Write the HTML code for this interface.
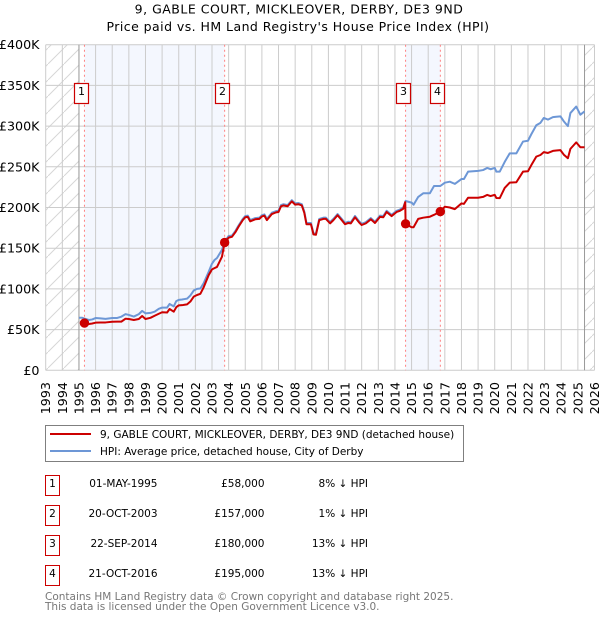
<!DOCTYPE html>
<html>
<head>
<meta charset="utf-8">
<style>
html,body{margin:0;padding:0;background:#fff;}
#wrap{position:relative;width:600px;height:620px;overflow:hidden;}
svg{display:block;}
text{font-family:"DejaVu Sans","Liberation Sans",sans-serif;fill:#000;}
</style>
</head>
<body>
<div id="wrap">
<svg id="chart" width="600" height="620" viewBox="0 0 600 620" xmlns="http://www.w3.org/2000/svg">
<defs>
<pattern id="hatch" patternUnits="userSpaceOnUse" width="16" height="16">
<line x1="-1" y1="17" x2="17" y2="-1" stroke="#d6d6d6" stroke-width="1"></line>
</pattern>
</defs>
<text x="299" y="13.5" text-anchor="middle" font-size="12.5" letter-spacing="0.5">9, GABLE COURT, MICKLEOVER, DERBY, DE3 9ND</text>
<text x="298" y="31" text-anchor="middle" font-size="12.5" letter-spacing="0.45">Price paid vs. HM Land Registry's House Price Index (HPI)</text>
<g id="plot"></g>

<g>
<rect x="45.5" y="425.5" width="418" height="36" fill="#fff" stroke="#7f7f7f" stroke-width="1"></rect>
<line x1="50" y1="434" x2="91" y2="434" stroke="#cc0000" stroke-width="2"></line>
<text x="100" y="438" font-size="10.5">9, GABLE COURT, MICKLEOVER, DERBY, DE3 9ND (detached house)</text>
<line x1="50" y1="451" x2="91" y2="451" stroke="#6d97d6" stroke-width="2"></line>
<text x="100" y="455" font-size="10.5">HPI: Average price, detached house, City of Derby</text>
</g>

<g font-size="10.5">
<g>
<rect x="45.5" y="475.5" width="14" height="20" fill="#fff" stroke="#cc0000" stroke-width="1"></rect>
<text x="52.5" y="487" text-anchor="middle">1</text>
<text x="157.5" y="487" text-anchor="end">01-MAY-1995</text>
<text x="264.5" y="487" text-anchor="end">£58,000</text>
<text x="368" y="487" text-anchor="end">8% ↓ HPI</text>
</g>
<g>
<rect x="45.5" y="505.5" width="14" height="20" fill="#fff" stroke="#cc0000" stroke-width="1"></rect>
<text x="52.5" y="517" text-anchor="middle">2</text>
<text x="157.5" y="517" text-anchor="end">20-OCT-2003</text>
<text x="264.5" y="517" text-anchor="end">£157,000</text>
<text x="368" y="517" text-anchor="end">1% ↓ HPI</text>
</g>
<g>
<rect x="45.5" y="535.5" width="14" height="20" fill="#fff" stroke="#cc0000" stroke-width="1"></rect>
<text x="52.5" y="547" text-anchor="middle">3</text>
<text x="157.5" y="547" text-anchor="end">22-SEP-2014</text>
<text x="264.5" y="547" text-anchor="end">£180,000</text>
<text x="368" y="547" text-anchor="end">13% ↓ HPI</text>
</g>
<g>
<rect x="45.5" y="565.5" width="14" height="20" fill="#fff" stroke="#cc0000" stroke-width="1"></rect>
<text x="52.5" y="577" text-anchor="middle">4</text>
<text x="157.5" y="577" text-anchor="end">21-OCT-2016</text>
<text x="264.5" y="577" text-anchor="end">£195,000</text>
<text x="368" y="577" text-anchor="end">13% ↓ HPI</text>
</g>
</g>

<text x="45" y="600" font-size="10.5" style="fill:#777">Contains HM Land Registry data © Crown copyright and database right 2025.</text>
<text x="45" y="610" font-size="10.5" style="fill:#777">This data is licensed under the Open Government Licence v3.0.</text>
</svg>
</div>
<script>
var yearTicks = [1993,1994,1995,1996,1997,1998,1999,2000,2001,2002,2003,2004,2005,2006,2007,2008,2009,2010,2011,2012,2013,2014,2015,2016,2017,2018,2019,2020,2021,2022,2023,2024,2025,2026];
var valueTicks = [0,50000,100000,150000,200000,250000,300000,350000,400000];
var valueTickLabels = ['£0','£50K','£100K','£150K','£200K','£250K','£300K','£350K','£400K'];

var hpiDates = [1995,1995.2,1995.33,1995.6,1995.8,1996,1996.3,1996.6,1997,1997.3,1997.55,1997.8,1998,1998.3,1998.6,1998.8,1999,1999.3,1999.55,1999.8,2000,2000.3,2000.45,2000.7,2000.85,2001,2001.2,2001.35,2001.5,2001.7,2001.9,2002.1,2002.3,2002.5,2002.8,2003,2003.15,2003.3,2003.6,2003.76,2004,2004.2,2004.4,2004.6,2004.85,2005,2005.15,2005.3,2005.6,2005.85,2006,2006.15,2006.3,2006.6,2006.85,2007,2007.15,2007.3,2007.55,2007.8,2008,2008.2,2008.4,2008.55,2008.68,2008.95,2009.1,2009.25,2009.45,2009.7,2009.85,2010.1,2010.3,2010.55,2010.8,2011,2011.2,2011.35,2011.6,2011.85,2012,2012.25,2012.55,2012.8,2013.1,2013.3,2013.5,2013.8,2014.1,2014.3,2014.5,2014.64,2015,2015.12,2015.4,2015.7,2016.1,2016.35,2016.73,2017,2017.3,2017.6,2018,2018.15,2018.4,2019,2019.3,2019.55,2019.75,2020,2020.1,2020.3,2020.6,2020.9,2021.3,2021.7,2022,2022.2,2022.5,2022.75,2022.95,2023.2,2023.5,2023.7,2023.95,2024.15,2024.4,2024.55,2024.9,2025.15,2025.4];
var hpiValues = [64500,64500,63500,61800,62500,64200,63800,63200,64200,64300,65900,69000,68000,66000,69000,73000,70000,70500,72000,75500,77000,77000,81500,78500,85000,86500,87000,87500,88000,92000,98000,100000,100500,107000,121000,131000,135500,138000,148000,158000,165000,165500,171000,178000,186000,189500,190000,184600,187000,187500,190600,191500,186000,193600,195500,196000,203000,204000,203000,209000,205000,205500,204000,195000,181000,181000,168500,168000,186000,187500,187500,182000,186000,192000,186000,181000,182500,182000,189600,183000,180000,182000,187000,182500,190000,189500,196000,191000,196000,197500,200000,208000,206000,203400,213000,217500,217500,226400,226400,230500,231700,229000,235000,235000,244000,245000,246000,248600,247000,248600,244000,244000,256000,266500,266500,281000,282000,290000,301000,304000,310000,308000,311000,311500,312000,306000,300000,316000,324000,314000,318000];

var priceDates = [1995.33,1995.6,1995.8,1996,1996.3,1996.6,1997,1997.3,1997.55,1997.8,1998,1998.3,1998.6,1998.8,1999,1999.3,1999.55,1999.8,2000,2000.3,2000.45,2000.7,2000.85,2001,2001.2,2001.35,2001.5,2001.7,2001.9,2002.1,2002.3,2002.5,2002.8,2003,2003.15,2003.3,2003.6,2003.76,2004,2004.2,2004.4,2004.6,2004.85,2005,2005.15,2005.3,2005.6,2005.85,2006,2006.15,2006.3,2006.6,2006.85,2007,2007.15,2007.3,2007.55,2007.8,2008,2008.2,2008.4,2008.55,2008.68,2008.95,2009.1,2009.25,2009.45,2009.7,2009.85,2010.1,2010.3,2010.55,2010.8,2011,2011.2,2011.35,2011.6,2011.85,2012,2012.25,2012.55,2012.8,2013.1,2013.3,2013.5,2013.8,2014.1,2014.3,2014.5,2014.62,2014.64,2015,2015.12,2015.4,2015.7,2016.1,2016.35,2016.73,2017,2017.3,2017.6,2018,2018.15,2018.4,2019,2019.3,2019.55,2019.75,2020,2020.1,2020.3,2020.6,2020.9,2021.3,2021.7,2022,2022.2,2022.5,2022.75,2022.95,2023.2,2023.5,2023.7,2023.95,2024.15,2024.4,2024.55,2024.9,2025.15,2025.4];
var priceValues = [58000,56900,57500,58500,58700,58800,59700,59800,59800,63400,63000,61800,63000,66700,63000,64500,67000,69500,71300,71000,75300,72000,77500,79800,80000,80500,81000,84500,90500,92500,94000,102000,117000,124000,125500,127000,139600,157000,163000,164000,169500,176500,184500,188000,188500,183000,185500,186000,189000,190000,184500,192000,194000,194500,201500,202500,201500,207500,203500,204000,202500,193500,179500,179500,167000,166500,184500,186000,186000,180500,184500,190500,184500,179500,181000,180500,188000,181500,178500,180500,185500,181000,188500,188000,194500,189500,194500,196000,198500,206500,180000,175700,175700,186000,187500,188700,191000,195000,201000,200000,198000,205000,204500,212000,212000,213000,215500,214000,215500,211700,211500,224000,230500,231000,244000,244500,252000,262500,264500,268000,267000,269500,270000,270500,265000,260500,272000,280000,274000,274000];

var saleLabels = ['1','2','3','4'];
var saleDates = [1995.33,2003.76,2014.64,2016.73];
var salePrices = [58000,157000,180000,195000];
var dataEndDate = 2025.4;

var X0 = 45.7, X1 = 594.5, Y0 = 370.3, Y1 = 44.7;
var DOMAIN_X0 = 1993, DOMAIN_X1 = 2026, DOMAIN_Y1 = 400000;
function xScale(v){ return X0 + (v - DOMAIN_X0) / (DOMAIN_X1 - DOMAIN_X0) * (X1 - X0); }
function yScale(v){ return Y0 - v / DOMAIN_Y1 * (Y0 - Y1); }

var NS = 'http://www.w3.org/2000/svg';
var plot = document.getElementById('plot');
function mk(tag, attrs){
  var el = document.createElementNS(NS, tag);
  for (var k in attrs) el.setAttribute(k, attrs[k]);
  plot.appendChild(el);
  return el;
}
var el, i;

// owned-period shading
for (i = 0; i < saleDates.length; i += 2) {
  el = mk('rect', {x: xScale(saleDates[i]), y: Y1, width: xScale(saleDates[i+1]) - xScale(saleDates[i]), height: Y0 - Y1, fill: '#f4f7fe'});
  
  
}

// no-data hatching
el = mk('rect', {x: X0, y: Y1, width: xScale(1995) - X0, height: Y0 - Y1, fill: 'url(#hatch)'});


el = mk('rect', {x: xScale(dataEndDate), y: Y1, width: X1 - xScale(dataEndDate), height: Y0 - Y1, fill: 'url(#hatch)'});



// grid and tick labels
yearTicks.forEach(function(t){
  var x = xScale(t);
  var g = mk('line', {x1: x, x2: x, y1: Y1, y2: Y0, stroke: '#cccccc', 'stroke-width': 1});
  
  
  var lab = mk('text', {transform: 'translate(' + (x + 4.5) + ',382) rotate(-90)', 'text-anchor': 'end', 'font-size': 12.7});
  lab.textContent = t;
  
  
});
valueTicks.forEach(function(t, idx){
  var y = yScale(t);
  var g = mk('line', {x1: X0, x2: X1, y1: y, y2: y, stroke: '#cccccc', 'stroke-width': 1});
  
  
  var lab = mk('text', {x: 39.5, y: y + 4.5, 'text-anchor': 'end', 'font-size': 12.7});
  lab.textContent = valueTickLabels[idx];
  
  
});

// data-range boundaries
el = mk('line', {x1: xScale(1995), x2: xScale(1995), y1: Y1, y2: Y0, stroke: '#999999', 'stroke-width': 1});


el = mk('line', {x1: xScale(dataEndDate), x2: xScale(dataEndDate), y1: Y1, y2: Y0, stroke: '#999999', 'stroke-width': 1});



// sale guide lines
saleDates.forEach(function(d){
  var g = mk('line', {x1: xScale(d), x2: xScale(d), y1: Y1, y2: Y0, stroke: '#ff8080', 'stroke-width': 1, 'stroke-dasharray': '2 3'});
  
  
});

// series
function linePath(ds, vs){
  var s = '';
  for (var j = 0; j < ds.length; j++) s += (j ? 'L' : 'M') + xScale(ds[j]).toFixed(2) + ' ' + yScale(vs[j]).toFixed(2);
  return s;
}
el = mk('path', {d: linePath(hpiDates, hpiValues), fill: 'none', stroke: '#6d97d6', 'stroke-width': 2, 'stroke-linejoin': 'round'});


el = mk('path', {d: linePath(priceDates, priceValues), fill: 'none', stroke: '#cc0000', 'stroke-width': 2, 'stroke-linejoin': 'round'});



// sale markers
saleDates.forEach(function(d, idx){
  var m = mk('circle', {cx: xScale(d), cy: yScale(salePrices[idx]), r: 4.7, fill: '#cc0000'});
  
  
});

// annotation boxes
saleDates.forEach(function(d, idx){
  var x = xScale(d);
  var b = mk('rect', {x: Math.round(x - 10) + 0.5, y: 83.5, width: 14, height: 20, fill: '#fff', stroke: '#cc0000', 'stroke-width': 1.2});
  
  
  var t = mk('text', {x: Math.round(x - 10) + 7.5, y: 95, 'text-anchor': 'middle', 'font-size': 11});
  t.textContent = saleLabels[idx];
  
  
});
</script>
</body>
</html>
